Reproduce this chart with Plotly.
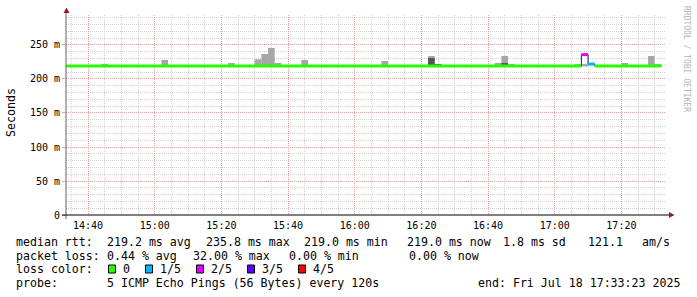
import plotly.graph_objects as go

DAY = "2025-07-18 "
x_start = "14:33:23"
x_end = "17:33:23"

# smoke (grey spread of the pings) per 2-minute step: start time, top value (ms)
smoke_start = ["14:44", "15:02", "15:04", "15:22", "15:28", "15:30", "15:32", "15:34",
               "15:36", "15:42", "15:44", "15:46", "16:04", "16:08", "16:10", "16:22",
               "16:24", "16:42", "16:44", "16:46", "17:06", "17:08", "17:20", "17:28", "17:30"]
smoke_top = [222.0, 228.0, 220.6, 223.5, 220.6, 229.0, 236.8, 245.6,
             223.5, 220.6, 228.0, 220.6, 220.6, 226.5, 220.6, 233.8,
             222.0, 223.5, 233.8, 222.0, 222.0, 222.0, 223.5, 233.8, 222.0]
dark_start = ["16:22", "16:24", "16:44"]
dark_top = [230.9, 222.0, 223.5]
smoke_floor = 218.3

# median rtt, as segments: boundaries, value and lost pings per segment
median_t = ["14:33:23", "17:08", "17:10", "17:12", "17:32"]
median_v = [219.1, 235.8, 222.0, 219.1]
median_loss = [0, 2, 1, 0]

loss_colors = ["#26ff00", "#00b8ff", "#dd00ff", "#5e00ff", "#ff0000"]
loss_labels = ["0", "1/5", "2/5", "3/5", "4/5"]

y_tick_vals = [0, 50, 100, 150, 200, 250]
y_tick_text = ["0", "50 m", "100 m", "150 m", "200 m", "250 m"]
x_tick_labels = ["14:40", "15:00", "15:20", "15:40", "16:00", "16:20", "16:40", "17:00", "17:20"]

legend_rows = [
    [("median rtt:", 16), ("219.2 ms avg", 107), ("235.8 ms max", 206), ("219.0 ms min", 304),
     ("219.0 ms now", 407), ("1.8 ms sd", 503), ("121.1", 588), ("am/s", 642)],
    [("packet loss:", 16), ("0.44 % avg", 107), ("32.00 % max", 193), ("0.00 % min", 289),
     ("0.00 % now", 409)],
    [("loss color:", 16)],
    [("probe:", 16), ("5 ICMP Echo Pings (56 Bytes) every 120s", 107),
     ("end: Fri Jul 18 17:33:23 2025", 478)],
]
row_y = [241.5, 255.5, 269, 283]
loss_box_x = [108.5, 145.5, 196.5, 247.5, 298.5]
loss_label_x = [123, 160, 211, 261.7, 312.7]

MONO = "DejaVu Sans Mono"
L, T, W, H = 66, 15, 600, 200


def px(xp):
    return (xp - L) / W


def py(yp):
    return (T + H - yp) / H


def dt(t):
    return DAY + t


fig = go.Figure()

fig.add_trace(go.Bar(
    x=[dt(t) for t in smoke_start], y=[v - smoke_floor for v in smoke_top],
    base=smoke_floor, width=120000, offset=0,
    marker=dict(color="#a6a6a6", line=dict(width=0)), showlegend=False, hoverinfo="skip"))
fig.add_trace(go.Bar(
    x=[dt(t) for t in dark_start], y=[v - smoke_floor for v in dark_top],
    base=smoke_floor, width=120000, offset=0,
    marker=dict(color="#555555", line=dict(width=0)), showlegend=False, hoverinfo="skip"))

# thin dark median line (step)
fig.add_trace(go.Scatter(
    x=[dt(t) for t in median_t], y=median_v + [median_v[-1]],
    mode="lines", line=dict(color="#202020", width=1, shape="hv"),
    showlegend=False, hoverinfo="skip"))
# thick loss-coloured median
for i, v in enumerate(median_v):
    fig.add_trace(go.Scatter(
        x=[dt(median_t[i]), dt(median_t[i + 1])], y=[v, v], mode="lines",
        line=dict(color=loss_colors[median_loss[i]], width=3),
        showlegend=False, hoverinfo="skip"))

annotations = []
shapes = []
for row, yy in zip(legend_rows, row_y):
    for text, xx in row:
        annotations.append(dict(text=text, x=px(xx), y=py(yy), xref="paper", yref="paper",
                                xanchor="left", yanchor="middle", showarrow=False,
                                borderpad=0, borderwidth=0,
                                font=dict(family=MONO, size=11.6, color="#000000")))
for c, lab, bx, lx in zip(loss_colors, loss_labels, loss_box_x, loss_label_x):
    shapes.append(dict(type="rect", xref="paper", yref="paper",
                       x0=px(bx), x1=px(bx + 7), y0=py(row_y[2] + 4), y1=py(row_y[2] - 4),
                       fillcolor=c, line=dict(color="#000000", width=1)))
    annotations.append(dict(text=lab, x=px(lx), y=py(row_y[2]), xref="paper", yref="paper",
                            xanchor="left", yanchor="middle", showarrow=False,
                            borderpad=0, borderwidth=0,
                            font=dict(family=MONO, size=11.6, color="#000000")))

annotations.append(dict(text="Seconds", x=px(11), y=py(113), xref="paper", yref="paper",
                        xanchor="center", yanchor="middle", textangle=-90, showarrow=False,
                        borderpad=0, borderwidth=0,
                        font=dict(family=MONO, size=11.6, color="#000000")))
annotations.append(dict(text="RRDTOOL / TOBI OETIKER", x=px(686), y=py(59), xref="paper",
                        yref="paper", xanchor="center", yanchor="middle", textangle=90,
                        showarrow=False, borderpad=0, borderwidth=0,
                        font=dict(family=MONO, size=8, color="#b4b4b4")))

# axes with arrows
shapes.append(dict(type="line", xref="paper", yref="paper", x0=px(66), x1=px(66),
                   y0=py(219), y1=py(12), line=dict(color="#606060", width=1)))
shapes.append(dict(type="line", xref="paper", yref="paper", x0=px(62), x1=px(670),
                   y0=py(215), y1=py(215), line=dict(color="#000000", width=1)))
shapes.append(dict(type="path", xref="paper", yref="paper",
                   path="M %f,%f L %f,%f L %f,%f Z" % (px(63.5), py(13), px(69.5), py(13), px(66.5), py(7.5)),
                   fillcolor="#902020", line=dict(color="#902020", width=0)))
shapes.append(dict(type="path", xref="paper", yref="paper",
                   path="M %f,%f L %f,%f L %f,%f Z" % (px(669), py(212), px(669), py(218), px(674.5), py(215)),
                   fillcolor="#902020", line=dict(color="#902020", width=0)))

fig.update_layout(
    width=697, height=297,
    margin=dict(l=L, r=697 - L - W, t=T, b=297 - T - H, autoexpand=False),
    paper_bgcolor="#ffffff", plot_bgcolor="#ffffff",
    barmode="overlay", showlegend=False,
    annotations=annotations, shapes=shapes,
    xaxis=dict(type="date", range=[dt(x_start), dt(x_end)],
               tickvals=[dt(t) for t in x_tick_labels], ticktext=x_tick_labels,
               tickfont=dict(family=MONO, size=10, color="#000000"),
               ticklabelstandoff=3,
               showgrid=True, gridcolor="#e8a0a0", griddash="1px,1px", gridwidth=1,
               minor=dict(dtick=300000, tick0=dt("14:35"), showgrid=True,
                          gridcolor="#d2d2d2", griddash="1px,1px", gridwidth=1),
               zeroline=False, showline=False, ticks=""),
    yaxis=dict(range=[0, 294.1], tickvals=y_tick_vals, ticktext=y_tick_text,
               tickfont=dict(family=MONO, size=10, color="#000000"),
               showgrid=True, gridcolor="#e8a0a0", griddash="1px,1px", gridwidth=1,
               minor=dict(dtick=10, showgrid=True, gridcolor="#d2d2d2",
                          griddash="1px,1px", gridwidth=1),
               zeroline=False, showline=False, ticks="outside", ticklen=3,
               tickcolor="#e8a0a0"),
)

fig.write_html("out.html")
